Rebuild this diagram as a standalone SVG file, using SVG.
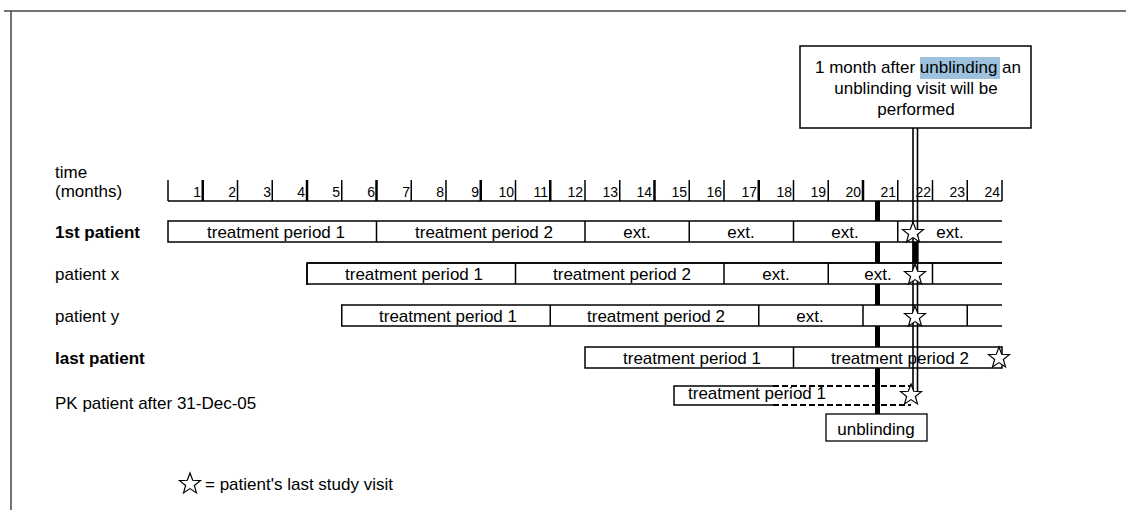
<svg xmlns="http://www.w3.org/2000/svg" width="1126" height="510" viewBox="0 0 1126 510">
<style>
text{font-family:"Liberation Sans",Arial,sans-serif;font-size:17px;fill:#000}
.num{font-size:14px;text-anchor:end}
.c{text-anchor:middle}
.b{font-weight:bold}
.bar{fill:#fff;stroke:#000;stroke-width:1.5}
.ln{stroke:#000;stroke-width:1.5;fill:none}
.tk{stroke:#000;stroke-width:1.5}
.tkb{stroke:#000;stroke-width:2.5}
.star{fill:#fff;stroke:#000;stroke-width:1.2;stroke-linejoin:miter}
.dash{stroke:#000;stroke-width:2.2;stroke-dasharray:6 3;fill:none}
</style>
<defs>
<polygon id="st" class="star" points="0,-11 2.7,-3.72 10.46,-3.4 4.37,1.42 6.47,8.9 0,4.6 -6.47,8.9 -4.37,1.42 -10.46,-3.4 -2.7,-3.72"/>
</defs>
<rect width="1126" height="510" fill="#fff"/>
<g id="frame">
<line x1="4" y1="11" x2="1126" y2="11" stroke="#444" stroke-width="1.5"/>
<line x1="11" y1="11" x2="11" y2="510" stroke="#444" stroke-width="1.5"/>
</g>
<g id="axis">
<text x="55" y="178">time</text>
<text x="55" y="197">(months)</text>
<line class="ln" x1="168" y1="201" x2="1002" y2="201"/>
<line class="tk" x1="168" y1="180" x2="168" y2="201"/>
<line class="tkb" x1="202.75" y1="180" x2="202.75" y2="201"/><text class="num" x="201" y="197">1</text>
<line class="tk" x1="237.5" y1="180" x2="237.5" y2="201"/><text class="num" x="236" y="197">2</text>
<line class="tk" x1="272.25" y1="180" x2="272.25" y2="201"/><text class="num" x="271" y="197">3</text>
<line class="tkb" x1="307" y1="180" x2="307" y2="201"/><text class="num" x="305" y="197">4</text>
<line class="tk" x1="341.75" y1="180" x2="341.75" y2="201"/><text class="num" x="340" y="197">5</text>
<line class="tkb" x1="376.5" y1="180" x2="376.5" y2="201"/><text class="num" x="375" y="197">6</text>
<line class="tk" x1="411.25" y1="180" x2="411.25" y2="201"/><text class="num" x="410" y="197">7</text>
<line class="tk" x1="446" y1="180" x2="446" y2="201"/><text class="num" x="444" y="197">8</text>
<line class="tkb" x1="480.75" y1="180" x2="480.75" y2="201"/><text class="num" x="479" y="197">9</text>
<line class="tk" x1="515.5" y1="180" x2="515.5" y2="201"/><text class="num" x="514" y="197">10</text>
<line class="tkb" x1="550.25" y1="180" x2="550.25" y2="201"/><text class="num" x="548" y="197">11</text>
<line class="tk" x1="585" y1="180" x2="585" y2="201"/><text class="num" x="583" y="197">12</text>
<line class="tk" x1="619.75" y1="180" x2="619.75" y2="201"/><text class="num" x="618" y="197">13</text>
<line class="tkb" x1="654.5" y1="180" x2="654.5" y2="201"/><text class="num" x="652" y="197">14</text>
<line class="tk" x1="689.25" y1="180" x2="689.25" y2="201"/><text class="num" x="687" y="197">15</text>
<line class="tk" x1="724" y1="180" x2="724" y2="201"/><text class="num" x="722" y="197">16</text>
<line class="tkb" x1="758.75" y1="180" x2="758.75" y2="201"/><text class="num" x="757" y="197">17</text>
<line class="tk" x1="793.5" y1="180" x2="793.5" y2="201"/><text class="num" x="792" y="197">18</text>
<line class="tk" x1="828.25" y1="180" x2="828.25" y2="201"/><text class="num" x="826" y="197">19</text>
<line class="tkb" x1="863" y1="180" x2="863" y2="201"/><text class="num" x="861" y="197">20</text>
<line class="tk" x1="897.75" y1="180" x2="897.75" y2="201"/><text class="num" x="896" y="197">21</text>
<line class="tk" x1="932.5" y1="180" x2="932.5" y2="201"/><text class="num" x="931" y="197">22</text>
<line class="tk" x1="967.25" y1="180" x2="967.25" y2="201"/><text class="num" x="965" y="197">23</text>
<line class="tk" x1="1002" y1="180" x2="1002" y2="201"/><text class="num" x="1000" y="197">24</text>
</g>
<g id="connectors">
<line x1="877.5" y1="201" x2="877.5" y2="414" stroke="#000" stroke-width="5"/>
</g>
<g id="row-1st-patient">
<text class="b" x="55" y="238">1st patient</text>
<path class="bar" d="M1002,221 H168 V242 H1002"/>
<line class="ln" x1="376.5" y1="221" x2="376.5" y2="242"/>
<line class="ln" x1="585" y1="221" x2="585" y2="242"/>
<line class="ln" x1="689.25" y1="221" x2="689.25" y2="242"/>
<line class="ln" x1="793.5" y1="221" x2="793.5" y2="242"/>
<line class="ln" x1="897.75" y1="221" x2="897.75" y2="242"/>
<text class="c" x="276" y="238">treatment period 1</text>
<text class="c" x="484" y="238">treatment period 2</text>
<text class="c" x="637" y="238">ext.</text>
<text class="c" x="741" y="238">ext.</text>
<text class="c" x="845" y="238">ext.</text>
<text class="c" x="950" y="238">ext.</text>
</g>
<g id="row-patient-x">
<text x="55" y="280">patient x</text>
<path class="bar" d="M1002,263 H307 V284 H1002" stroke-width="2"/>
<line class="ln" x1="1002" y1="263" x2="307" y2="263" stroke-width="2.5"/>
<line class="ln" x1="307" y1="263" x2="307" y2="285" stroke-width="2.5"/>
<line class="ln" x1="515.5" y1="263" x2="515.5" y2="284"/>
<line class="ln" x1="724" y1="263" x2="724" y2="284"/>
<line class="ln" x1="828.25" y1="263" x2="828.25" y2="284"/>
<line class="ln" x1="932.5" y1="263" x2="932.5" y2="284"/>
<text class="c" x="414" y="280">treatment period 1</text>
<text class="c" x="622" y="280">treatment period 2</text>
<text class="c" x="776" y="280">ext.</text>
<text class="c" x="878" y="280">ext.</text>
</g>
<g id="row-patient-y">
<text x="55" y="322">patient y</text>
<path class="bar" d="M1002,305 H341.75 V326 H1002"/>
<line class="ln" x1="550.25" y1="305" x2="550.25" y2="326"/>
<line class="ln" x1="758.75" y1="305" x2="758.75" y2="326"/>
<line class="ln" x1="863" y1="305" x2="863" y2="326"/>
<line class="ln" x1="967.25" y1="305" x2="967.25" y2="326"/>
<text class="c" x="448" y="322">treatment period 1</text>
<text class="c" x="656" y="322">treatment period 2</text>
<text class="c" x="810" y="322">ext.</text>
</g>
<g id="row-last-patient">
<text class="b" x="55" y="364">last patient</text>
<rect class="bar" x="585" y="347" width="417" height="21" stroke-width="2"/>
<line class="ln" x1="793.5" y1="347" x2="793.5" y2="368"/>
<text class="c" x="692" y="364">treatment period 1</text>
</g>
<g id="row-pk-patient">
<text x="55" y="409">PK patient after 31-Dec-05</text>
<path class="ln" d="M773,386 H674 V405 H773"/>
<path class="dash" d="M773,386 H911 M773,405 H911"/>
<text class="c" x="757" y="399">treatment period 1</text>
</g>
<g id="unblinding-visit-line">
<line x1="913" y1="128" x2="913" y2="392" stroke="#000" stroke-width="1.6"/>
<line x1="917.5" y1="128" x2="917.5" y2="392" stroke="#000" stroke-width="1.6"/>
<rect x="912.5" y="242" width="6" height="21" fill="#000"/>
</g>
<g id="row-last-text">
<text class="c" x="900" y="364">treatment period 2</text>
</g>
<g id="stars">
<use href="#st" x="913" y="233"/>
<use href="#st" x="915" y="275"/>
<use href="#st" x="915" y="317"/>
<use href="#st" x="999" y="358"/>
<use href="#st" x="911" y="395"/>
</g>
<g id="note-box">
<rect x="800" y="46" width="231" height="82" fill="#fff" stroke="#000" stroke-width="1.5"/>
<rect x="920" y="57" width="80" height="22" fill="#9ec2de"/>
<text class="c" x="918" y="73">1 month after unblinding an</text>
<text class="c" x="916" y="94">unblinding visit will be</text>
<text class="c" x="916" y="115">performed</text>
</g>
<g id="unblinding-box">
<rect x="826" y="414" width="101" height="27" fill="#fff" stroke="#000" stroke-width="1.3"/>
<text class="c" x="876" y="435">unblinding</text>
</g>
<g id="legend">
<use href="#st" x="190" y="484"/>
<text x="205" y="490">= patient's last study visit</text>
</g>
</svg>
